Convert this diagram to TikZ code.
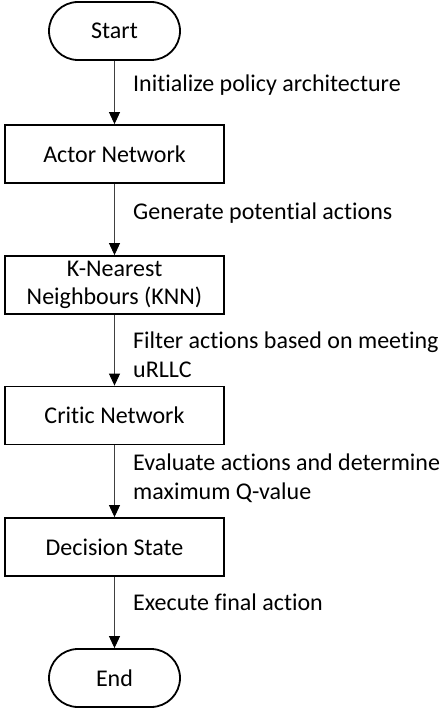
\documentclass[tikz,border=0pt]{standalone}
\usepackage{fontspec}
\setmainfont{Carlito}[Ligatures=NoCommon]
\usetikzlibrary{arrows.meta}
\begin{document}
\begin{tikzpicture}[x=1pt,y=-1pt,
  every node/.style={font=\fontsize{24}{28.5}\selectfont},
  pill/.style={draw, line width=1.8pt, rounded corners=29pt, minimum width=131pt, minimum height=58pt, inner sep=0pt},
  stepbox/.style={draw, line width=1.8pt, minimum width=219pt, minimum height=58pt, inner sep=0pt, align=center},
  lbl/.style={anchor=west, inner sep=0pt, align=left},
  arr/.style={draw=black!75, line width=0.9pt, -{Triangle[width=11pt,length=12pt,fill=black,color=black]}}
]
\path[use as bounding box, fill=white] (0,0) rectangle (445,709);
\node[pill] (start) at (114.5,31) {Start};
\node[stepbox] (actor) at (114.5,154) {Actor Network};
\node[stepbox] (knn) at (114.5,285) {K-Nearest\\Neighbours (KNN)};
\node[stepbox] (critic) at (114.5,415.5) {Critic Network};
\node[stepbox] (dec) at (114.5,547) {Decision State};
\node[pill] (end) at (114.5,678) {End};

\draw[arr] (start) -- (actor);
\draw[arr] (actor) -- (knn);
\draw[arr] (knn) -- (critic);
\draw[arr] (critic) -- (dec);
\draw[arr] (dec) -- (end);

\node[lbl] (l1) at (133,85) {Initialize policy architecture};
\node[lbl] (l2) at (133,213) {Generate potential actions};
\node[lbl] (l3) at (133,355) {Filter actions based on meeting\\uRLLC};
\node[lbl] (l4) at (133,478) {Evaluate actions and determine\\maximum Q-value};
\node[lbl] (l5) at (133,602) {Execute final action};
\end{tikzpicture}
\end{document}
